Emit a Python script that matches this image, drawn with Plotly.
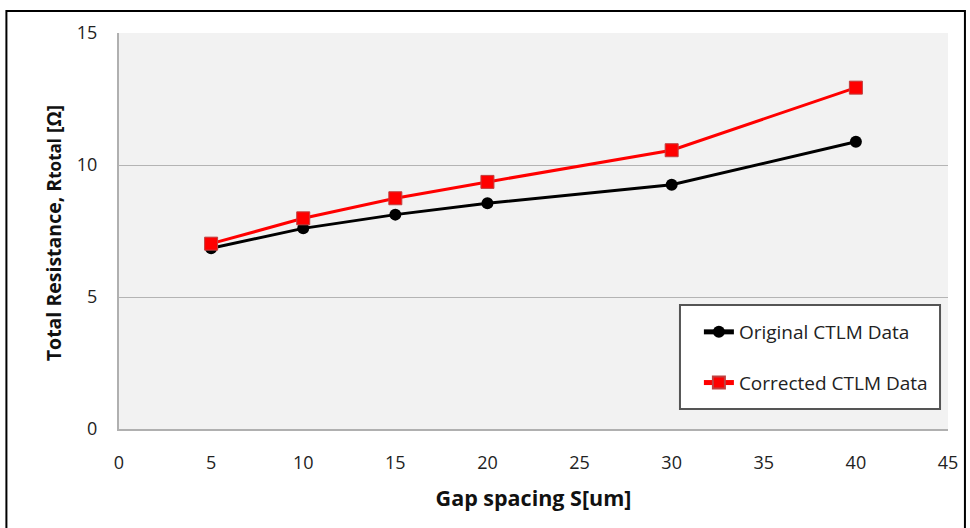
import plotly.graph_objects as go

gap = [5, 10, 15, 20, 30, 40]
original = [6.85, 7.6, 8.12, 8.55, 9.25, 10.88]
corrected = [7.02, 7.98, 8.74, 9.36, 10.56, 12.93]

x_ticks = [0, 5, 10, 15, 20, 25, 30, 35, 40, 45]
y_ticks = [0, 5, 10, 15]

font_family = "Open Sans, Lato, sans-serif"

W, H = 970, 528
L, T = 119, 33
R = W - 951
B = H - 429
PW, PH = W - L - R, H - T - B


def px_x(p):
    return (p - L) / PW


def px_y(p):
    return (H - B - p) / PH


fig = go.Figure()
fig.add_trace(go.Scatter(
    x=gap, y=original, name="Original CTLM Data", mode="lines+markers",
    legendgroup="a",
    line=dict(color="black", width=3),
    marker=dict(symbol="circle", size=12, color="black"),
))
fig.add_trace(go.Scatter(
    x=gap, y=corrected, name="Corrected CTLM Data", mode="lines+markers",
    legendgroup="b",
    line=dict(color="#ff0000", width=3),
    marker=dict(symbol="square", size=13, color="#ff0000", line=dict(color="#c04040", width=1)),
))

fig.update_layout(
    width=W, height=H,
    margin=dict(l=L, r=R, t=T, b=B, pad=0),
    paper_bgcolor="white",
    plot_bgcolor="#f2f2f2",
    font=dict(family=font_family, size=18, color="#222222"),
    showlegend=True,
    legend=dict(
        x=px_x(701), y=px_y(313), xanchor="left", yanchor="top",
        bgcolor="rgba(0,0,0,0)", borderwidth=0,
        font=dict(size=19, color="#222222"),
        tracegroupgap=23, itemsizing="constant",
        entrywidth=230,
    ),
    xaxis=dict(
        range=[0, 45], tickvals=x_ticks, ticktext=[str(v) for v in x_ticks],
        showgrid=False, zeroline=False,
        showline=True, linecolor="#b0b0b0", linewidth=2,
        ticks="", ticklabelstandoff=16,
        title=dict(text="<b>Gap spacing S[um]</b>", font=dict(size=21.5, color="#111111"), standoff=18),
    ),
    yaxis=dict(
        range=[0, 15], tickvals=y_ticks, ticktext=[str(v) for v in y_ticks],
        showgrid=True, gridcolor="#b4b4b4", gridwidth=1.2, zeroline=False,
        showline=True, linecolor="#b0b0b0", linewidth=2,
        ticks="", ticklabelstandoff=16,
    ),
    annotations=[
        dict(text="<b>Total Resistance, R<span style='font-size:17px'>total</span> [Ω]</b>",
             xref="paper", yref="paper", x=px_x(54), y=px_y(233), xanchor="center", yanchor="middle",
             textangle=-90, showarrow=False, font=dict(size=19.5, color="#111111")),
    ],
    shapes=[
        # legend box
        dict(type="rect", xref="paper", yref="paper",
             x0=px_x(682), x1=px_x(943), y0=px_y(409), y1=px_y(305),
             line=dict(color="#555555", width=2), fillcolor="white", layer="above"),
        # outer frame
        dict(type="rect", xref="paper", yref="paper",
             x0=px_x(6), x1=px_x(968), y0=px_y(540), y1=px_y(11),
             line=dict(color="black", width=2), fillcolor="rgba(0,0,0,0)", layer="below"),
    ],
)

fig.write_html(
    "out.html",
    config={"displayModeBar": False},
    post_script="document.body.style.margin='0';document.body.style.padding='0';document.body.style.overflow='hidden';",
)
